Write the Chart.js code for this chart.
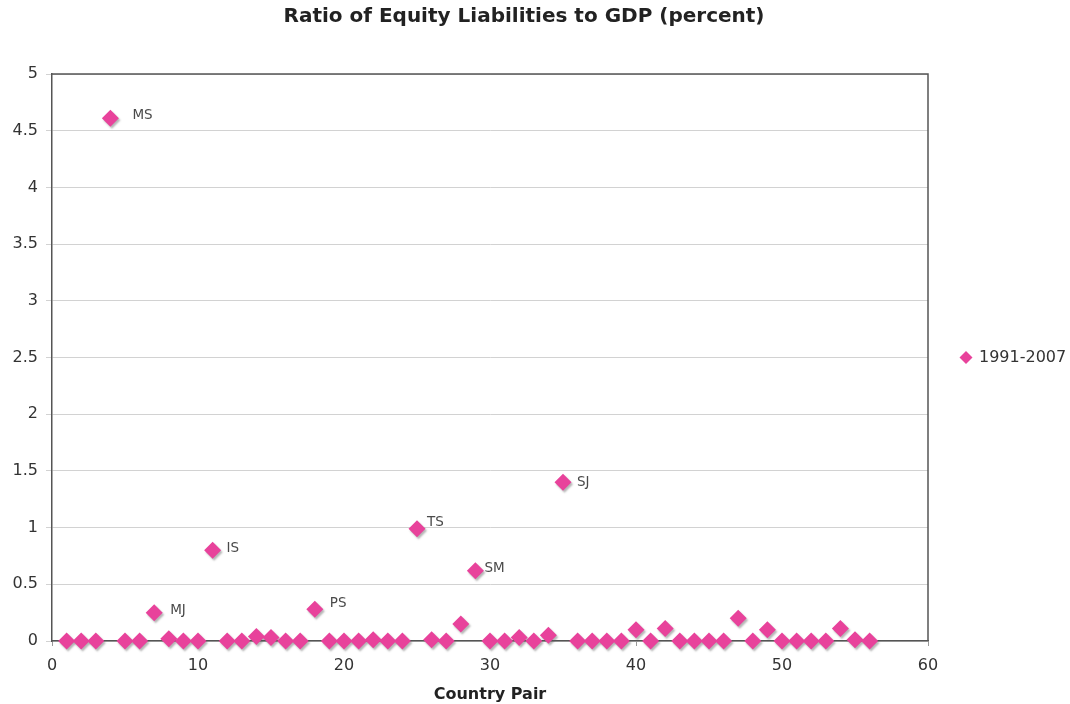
<!DOCTYPE html>
<html>
<head>
<meta charset="utf-8">
<title>Ratio of Equity Liabilities to GDP</title>
<script src="https://cdn.jsdelivr.net/npm/chart.js@4/dist/chart.umd.min.js"></script>
<style>
    html, body { margin: 0; padding: 0; background: #fff; }
    #wrap { width: 1070px; height: 704px; }
</style>
</head>
<body>
<div id="wrap"><canvas id="chart" width="1070" height="704"></canvas></div>
<script>
// country pair index and ratio values
let pairs = [
    1, 2, 3, 4, 5, 6, 7, 8, 9, 10,
    11, 12, 13, 14, 15, 16, 17, 18, 19, 20,
    21, 22, 23, 24, 25, 26, 27, 28, 29, 30,
    31, 32, 33, 34, 35, 36, 37, 38, 39, 40,
    41, 42, 43, 44, 45, 46, 47, 48, 49, 50,
    51, 52, 53, 54, 55, 56
];
let ratios = [
    0, 0, 0, 4.61, 0, 0, 0.25, 0.02, 0, 0,
    0.8, 0, 0, 0.04, 0.03, 0, 0, 0.28, 0, 0,
    0, 0.01, 0, 0, 0.99, 0.01, 0, 0.15, 0.62, 0,
    0, 0.03, 0, 0.05, 1.4, 0, 0, 0, 0, 0.1,
    0, 0.11, 0, 0, 0, 0, 0.2, 0, 0.1, 0,
    0, 0, 0, 0.11, 0.01, 0
];
// names shown next to the outliers
let pairNames = {4: "MS", 7: "MJ", 11: "IS", 18: "PS", 25: "TS", 29: "SM", 35: "SJ"};
let seriesName = "1991-2007";
let yTicks = [0, 0.5, 1, 1.5, 2, 2.5, 3, 3.5, 4, 4.5, 5];
let xTicks = [0, 10, 20, 30, 40, 50, 60];

let pink = "#E8429B";
let font = "'DejaVu Sans', Verdana, sans-serif";

let points = pairs.map((p, i) => ({x: p, y: ratios[i]}));

// label offsets from the marker centre
let labelOffsets = {
    "MS": [22, -3], "MJ": [16, -2], "IS": [14, -2], "PS": [15, -6],
    "TS": [10, -6], "SM": [9, -2], "SJ": [14, 0]
};

let extras = {
    id: "extras",
    beforeDatasetsDraw(chart) {
        let ctx = chart.ctx;
        ctx.save();
        ctx.shadowColor = "rgba(90,90,90,0.45)";
        ctx.shadowOffsetX = 1.5;
        ctx.shadowOffsetY = 2;
        ctx.shadowBlur = 2;
    },
    afterDatasetsDraw(chart) {
        let ctx = chart.ctx;
        ctx.restore();
        let area = chart.chartArea;
        let xs = chart.scales.x, ys = chart.scales.y;

        // frame round the plot
        ctx.save();
        ctx.strokeStyle = "#555";
        ctx.lineWidth = 1.5;
        ctx.beginPath();
        ctx.moveTo(area.left, area.top);
        ctx.lineTo(area.right, area.top);
        ctx.lineTo(area.right, area.bottom);
        ctx.stroke();
        ctx.restore();

        // point names
        ctx.save();
        ctx.font = "13.5px " + font;
        ctx.fillStyle = "#4a4a4a";
        ctx.textBaseline = "middle";
        Object.keys(pairNames).forEach((k) => {
            let i = pairs.indexOf(Number(k));
            let name = pairNames[k];
            let off = labelOffsets[name];
            ctx.fillText(name, xs.getPixelForValue(pairs[i]) + off[0], ys.getPixelForValue(ratios[i]) + off[1]);
        });
        ctx.restore();

        // title
        ctx.save();
        ctx.font = "bold 20px " + font;
        ctx.fillStyle = "#222";
        ctx.textAlign = "center";
        ctx.textBaseline = "middle";
        ctx.fillText("Ratio of Equity Liabilities to GDP (percent)", 524, 17);
        ctx.restore();

        // legend
        ctx.save();
        ctx.fillStyle = pink;
        ctx.beginPath();
        ctx.moveTo(966, 351);
        ctx.lineTo(972.5, 357.5);
        ctx.lineTo(966, 364);
        ctx.lineTo(959.5, 357.5);
        ctx.closePath();
        ctx.fill();
        ctx.font = "16px " + font;
        ctx.fillStyle = "#333";
        ctx.textBaseline = "middle";
        ctx.fillText(seriesName, 979, 358);
        ctx.restore();
    }
};

let ctx = document.getElementById("chart").getContext("2d");
new Chart(ctx, {
    type: "scatter",
    data: {
        datasets: [
            {
                label: seriesName,
                data: points,
                clip: false,
                pointStyle: "rectRot",
                pointRadius: 8.5,
                pointHoverRadius: 8.5,
                backgroundColor: pink,
                borderColor: pink,
                borderWidth: 0
            }
        ]
    },
    plugins: [extras],
    options: {
        responsive: false,
        animation: false,
        events: [],
        layout: {
            padding: {left: 0, right: 142, top: 74, bottom: 0}
        },
        plugins: {
            legend: {display: false},
            tooltip: {enabled: false},
            title: {display: false}
        },
        scales: {
            x: {
                type: "linear",
                min: 0,
                max: 60,
                afterBuildTicks: (axis) => {
                    axis.ticks = xTicks.map((v) => ({value: v}));
                },
                afterFit: (axis) => {
                    axis.height = 63;
                },
                border: {color: "#555", width: 1.5},
                grid: {
                    drawOnChartArea: false,
                    tickLength: 5,
                    color: "#999"
                },
                ticks: {
                    color: "#333",
                    font: {family: font, size: 16},
                    padding: 10,
                    maxRotation: 0
                },
                title: {
                    display: true,
                    text: "Country Pair",
                    color: "#222",
                    font: {family: font, size: 16, weight: "bold"},
                    padding: {top: 6, bottom: 0}
                }
            },
            y: {
                min: 0,
                max: 5,
                afterBuildTicks: (axis) => {
                    axis.ticks = yTicks.map((v) => ({value: v}));
                },
                afterFit: (axis) => {
                    axis.width = 52;
                },
                border: {color: "#555", width: 1.5},
                grid: {
                    color: "#d2d2d2",
                    tickLength: 6,
                    lineWidth: 1
                },
                ticks: {
                    color: "#333",
                    font: {family: font, size: 16},
                    padding: 8,
                    callback: (v) => String(v)
                }
            }
        }
    }
});
</script>
</body>
</html>
